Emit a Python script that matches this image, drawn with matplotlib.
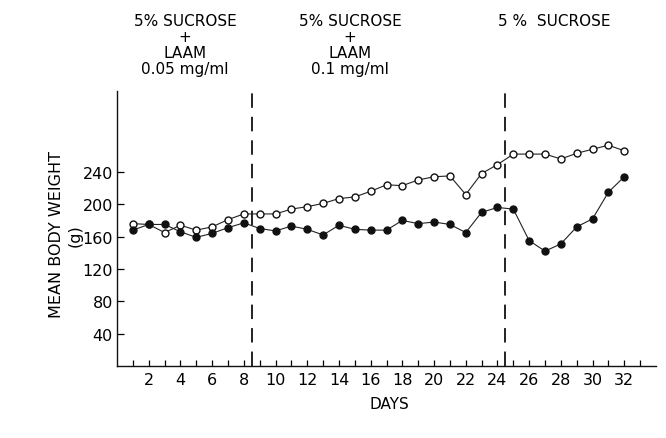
import matplotlib
matplotlib.use("Agg")
import matplotlib.pyplot as plt

days = list(range(1, 33))
control = [176, 175, 165, 174, 168, 172, 181, 188, 188, 188, 194, 197, 201, 207, 209, 216,
           224, 223, 230, 234, 235, 212, 238, 249, 262, 262, 262, 256, 263, 268, 273, 266]
laam = [168, 175, 175, 166, 159, 164, 171, 177, 170, 167, 173, 169, 162, 174, 169, 168,
        168, 180, 176, 178, 175, 165, 190, 196, 194, 155, 142, 151, 172, 182, 215, 234]
yticks = [40, 80, 120, 160, 200, 240]
xtick_labels = list(range(2, 33, 2))
phase_bounds = [8.5, 24.5]

plt.rcParams['font.family'] = ['DejaVu Sans']
W, H = 666, 439
fig = plt.figure(figsize=(W / 100, H / 100), dpi=100)
ax = fig.add_axes([117 / W, 1 - 367 / H, (656 - 117) / W, (367 - 92) / H])

ax.plot(days, control, '-', color='#222222', lw=0.8, marker='o', ms=5,
        mfc='white', mec='#111111', mew=1.0, zorder=3)
ax.plot(days, laam, '-', color='#222222', lw=0.8, marker='o', ms=5,
        mfc='#111111', mec='#111111', mew=1.0, zorder=3)

for b in phase_bounds:
    ax.axvline(b, ymin=0, ymax=1.0, color='#111111', lw=1.3,
               linestyle=(0, (8, 5)), zorder=2, clip_on=False)

ax.set_xlim(0, 34)
ax.set_ylim(0, 340)
for s in ['top', 'right']:
    ax.spines[s].set_visible(False)
for s in ['left', 'bottom']:
    ax.spines[s].set_linewidth(1.0)
    ax.spines[s].set_color('#111111')

ax.set_xticks(range(1, 34), minor=True)
ax.set_xticks(xtick_labels)
ax.set_xticklabels([str(v) for v in xtick_labels], fontsize=11.5)
ax.set_yticks(yticks)
ax.set_yticklabels([str(v) for v in yticks], fontsize=11.5)
ax.tick_params(axis='x', which='both', direction='in', length=4, width=0.9, pad=4)
ax.tick_params(axis='y', direction='in', length=5, width=0.9, pad=3)

ax.set_xlabel('DAYS', fontsize=11)
ax.xaxis.set_label_coords(0.506, -0.138)
ax.xaxis.label.set_va('center')

fig.text(57 / W, 1 - 234 / H, 'MEAN BODY WEIGHT', rotation=90, ha='center', va='center',
         fontsize=11.5)
fig.text(75 / W, 1 - 236 / H, '(g)', rotation=90, ha='center', va='center', fontsize=11.5)

fig.text(185 / W, 1 - 14 / H, '5% SUCROSE\n+\nLAAM\n0.05 mg/ml', ha='center', va='top',
         fontsize=11, linespacing=1.08)
fig.text(350 / W, 1 - 14 / H, '5% SUCROSE\n+\nLAAM\n0.1 mg/ml', ha='center', va='top',
         fontsize=11, linespacing=1.08)
fig.text(554 / W, 1 - 14 / H, '5 %  SUCROSE', ha='center', va='top', fontsize=11)

fig.savefig('out.png', dpi=100, facecolor='white')
